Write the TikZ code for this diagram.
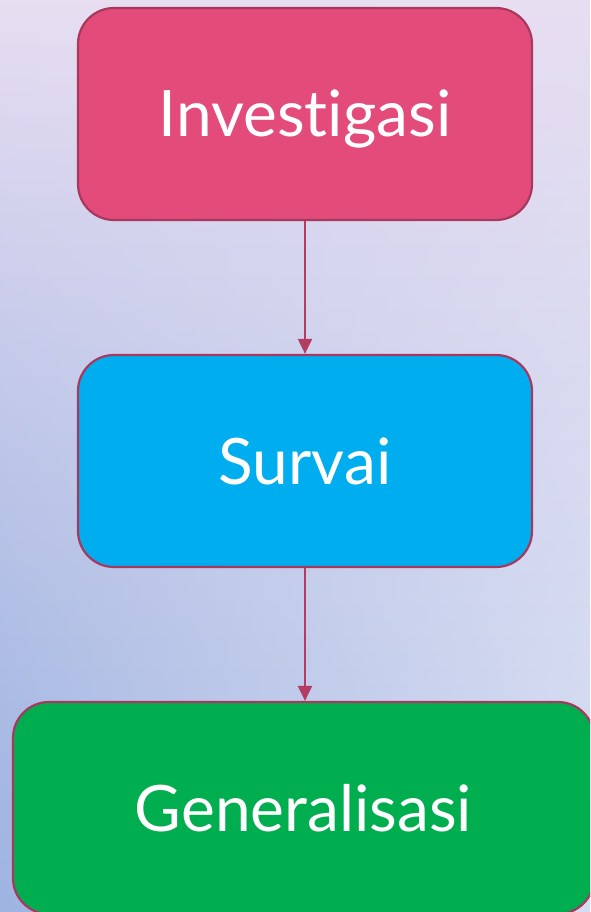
\documentclass[tikz,border=0pt]{standalone}
\usepackage{fontspec}
\setmainfont{Lato}[Ligatures={NoCommon}]
\usetikzlibrary{arrows.meta,fadings}
\definecolor{bgtop}{HTML}{E8DEF2}
\definecolor{bgbot}{HTML}{B2C2E7}
\definecolor{bgleft}{HTML}{86A3DA}
\definecolor{pinkfill}{HTML}{E34C7A}
\definecolor{bluefill}{HTML}{00AEEF}
\definecolor{greenfill}{HTML}{00AE50}
\definecolor{edgec}{HTML}{A8395E}
\definecolor{arrowc}{HTML}{B33C62}
\tikzset{
  stepbox/.style={draw=edgec, line width=2.2pt, rounded corners=36pt,
    minimum width=454pt, minimum height=212pt, text=white,
    font=\fontsize{64}{70}\selectfont, inner sep=0pt,
    text height=46pt, text depth=0pt},
  conn/.style={draw=arrowc, line width=2pt, -{Triangle[length=15pt,width=14pt]}}
}
\begin{document}
\begin{tikzpicture}[x=1pt,y=-1pt]
\useasboundingbox (0,0) rectangle (590,912);
\clip (0,0) rectangle (590,912);
\shade[top color=bgtop, bottom color=bgbot] (0,0) rectangle (590,912);
\shade[left color=bgleft, right color=white, opacity=0.45, path fading=north] (0,0) rectangle (590,912);
\node[stepbox, fill=pinkfill] (inv) at (305,114) {Inves\kern0pt tigasi};
\node[stepbox, fill=bluefill] (sur) at (305,461) {Survai};
\node[stepbox, fill=greenfill, minimum width=581pt] (gen) at (303.5,808) {Generalisasi};
\coordinate (genin) at (sur.south |- gen.north);
\draw[conn] (inv.south) -- (sur.north);
\draw[conn] (sur.south) -- (genin);
\end{tikzpicture}
\end{document}
